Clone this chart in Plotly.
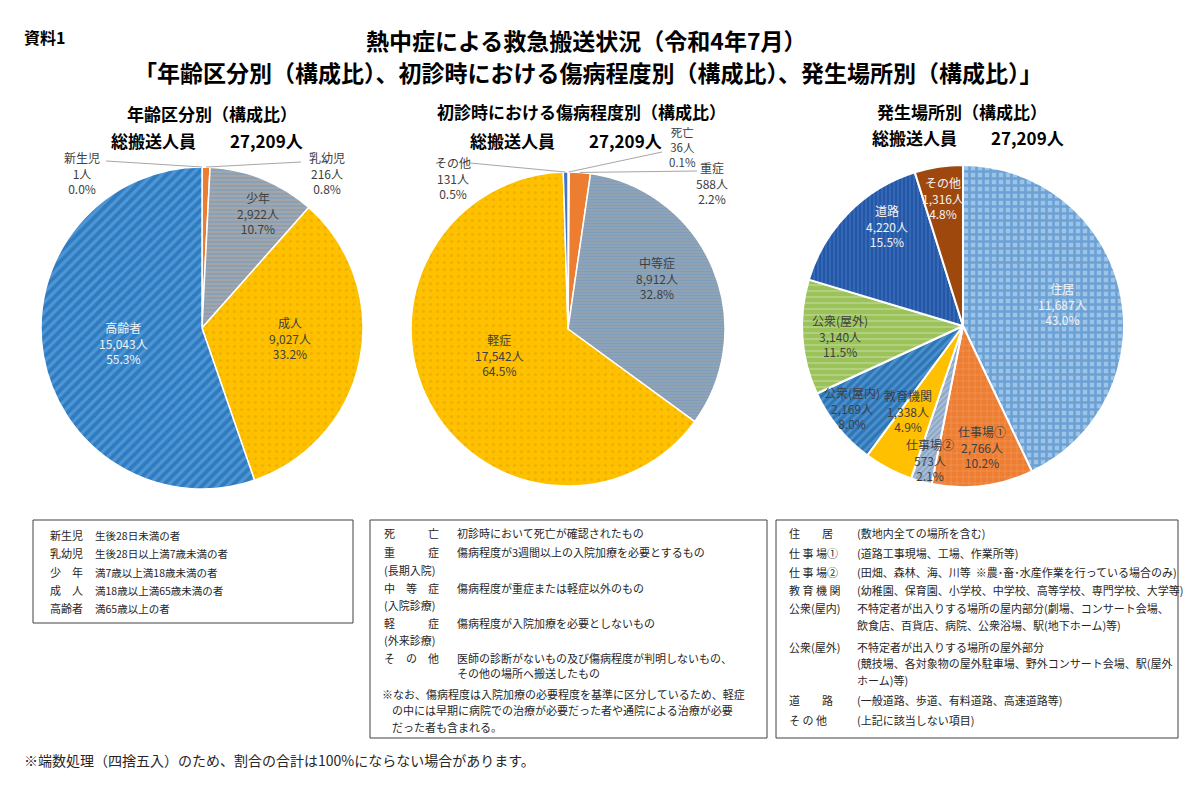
import math
import plotly.graph_objects as go

W, H = 1201, 803
FONT = "Noto Sans CJK JP"

# ---------------- data ----------------
age_labels = ["新生児", "乳幼児", "少年", "成人", "高齢者"]
age_values = [1, 216, 2922, 9027, 15043]
age_pcts = ["0.0%", "0.8%", "10.7%", "33.2%", "55.3%"]

sev_labels = ["死亡", "重症", "中等症", "軽症", "その他"]
sev_values = [36, 588, 8912, 17542, 131]
sev_pcts = ["0.1%", "2.2%", "32.8%", "64.5%", "0.5%"]

loc_labels = ["住居", "仕事場①", "仕事場②", "教育機関", "公衆(屋内)", "公衆(屋外)", "道路", "その他"]
loc_values = [11687, 2766, 573, 1338, 2169, 3140, 4220, 1316]
loc_pcts = ["43.0%", "10.2%", "2.1%", "4.9%", "8.0%", "11.5%", "15.5%", "4.8%"]

total_text = "総搬送人員　　27,209人"


def X(px):
    return px / W


def Y(py):
    return 1 - py / H


def fmt(v):
    return f"{v:,}人"


fig = go.Figure()

# pie geometry (center px, radius px)
pies = {
    "age": (202, 328, 161),
    "sev": (568, 329, 157),
    "loc": (963, 326, 161),
}


def dom(key):
    cx, cy, r = pies[key]
    return dict(x=[X(cx - r), X(cx + r)], y=[Y(cy + r), Y(cy - r)])


fig.add_trace(go.Pie(
    labels=age_labels, values=age_values, sort=False, direction="clockwise",
    rotation=0, textinfo="none", hoverinfo="label+value+percent",
    domain=dom("age"), showlegend=False,
    marker=dict(
        colors=["#4472C4", "#ED7D31", "#A5A5A5", "#FFC000", "#2F7BC0"],
        line=dict(color="white", width=1.5),
        pattern=dict(
            fillmode="overlay",
            shape=["", "", "-", ".", "/"],
            fgcolor=["#4472C4", "#ED7D31", "#5B9BD5", "#D9A300", "#6FB2EA"],
            size=[6, 6, 4, 7, 7],
            solidity=[0.3, 0.3, 0.4, 0.15, 0.45],
        ),
    ),
))

fig.add_trace(go.Pie(
    labels=sev_labels, values=sev_values, sort=False, direction="clockwise",
    rotation=0, textinfo="none", hoverinfo="label+value+percent",
    domain=dom("sev"), showlegend=False,
    marker=dict(
        colors=["#A5A5A5", "#ED7D31", "#A4A8A8", "#FFC000", "#4472C4"],
        line=dict(color="white", width=1.5),
        pattern=dict(
            fillmode="overlay",
            shape=["", "", "-", ".", ""],
            fgcolor=["#A5A5A5", "#ED7D31", "#5A94D2", "#D9A300", "#4472C4"],
            size=[6, 6, 3, 7, 6],
            solidity=[0.3, 0.3, 0.7, 0.15, 0.3],
        ),
    ),
))

fig.add_trace(go.Pie(
    labels=loc_labels, values=loc_values, sort=False, direction="clockwise",
    rotation=0, textinfo="none", hoverinfo="label+value+percent",
    domain=dom("loc"), showlegend=False,
    marker=dict(
        colors=["#9DC3E6", "#ED7D31", "#8FA9C8", "#FFC000", "#2E75B6", "#9BC35A", "#2458A6", "#9E480E"],
        line=dict(color="white", width=2),
        pattern=dict(
            fillmode="overlay",
            shape=["+", "+", "/", "", "/", "-", "|", ""],
            fgcolor=["#3A7FC4", "#F6B48A", "#DCE3EC", "#FFC000", "#6AAEE6", "#FFFFFF", "#4A7FD0", "#9E480E"],
            size=[7, 6, 4, 6, 6, 6, 4, 6],
            solidity=[0.6, 0.2, 0.3, 0.3, 0.45, 0.15, 0.4, 0.3],
        ),
    ),
))

ann = []
shapes = []

# titles
ann.append(dict(x=X(22), y=Y(37), text="<b>資料1</b>", xanchor="left", yanchor="middle",
                font=dict(size=16, color="black")))
ann.append(dict(x=X(586), y=Y(40.5), text="<b>熱中症による救急搬送状況（令和4年7月）</b>",
                xanchor="center", yanchor="middle", font=dict(size=23, color="black")))
ann.append(dict(x=X(588), y=Y(71.5),
                text="<b>「年齢区分別（構成比）、初診時における傷病程度別（構成比）、発生場所別（構成比）」</b>",
                xanchor="center", yanchor="middle", font=dict(size=23, color="black")))

subtitles = [
    ("年齢区分別（構成比）", 212, 113, 207, 140),
    ("初診時における傷病程度別（構成比）", 581, 111, 566, 140),
    ("発生場所別（構成比）", 962, 111, 968, 137),
]
for t_, x1, y1, x2, y2 in subtitles:
    ann.append(dict(x=X(x1), y=Y(y1), text=f"<b>{t_}</b>", xanchor="center", yanchor="middle",
                    font=dict(size=17, color="black")))
    ann.append(dict(x=X(x2), y=Y(y2), text=f"<b>{total_text}</b>", xanchor="center", yanchor="middle",
                    font=dict(size=17, color="black")))

DARK = "#404040"
LIGHT = "#F2F2F2"


def label(labels, values, pcts, i, x, y, color=DARK, size=12):
    ann.append(dict(x=X(x), y=Y(y), text=f"{labels[i]}<br>{fmt(values[i])}<br>{pcts[i]}",
                    xanchor="center", yanchor="middle", align="center",
                    font=dict(size=size, color=color)))


# pie 1 labels
label(age_labels, age_values, age_pcts, 0, 82, 173)
label(age_labels, age_values, age_pcts, 1, 327, 173)
label(age_labels, age_values, age_pcts, 2, 258, 213)
label(age_labels, age_values, age_pcts, 3, 290, 338)
label(age_labels, age_values, age_pcts, 4, 123, 343, color=LIGHT)

# pie 2 labels
label(sev_labels, sev_values, sev_pcts, 4, 453, 178)
label(sev_labels, sev_values, sev_pcts, 0, 682, 147, size=11.5)
label(sev_labels, sev_values, sev_pcts, 1, 712, 183)
label(sev_labels, sev_values, sev_pcts, 2, 657, 278)
label(sev_labels, sev_values, sev_pcts, 3, 500, 355)

# pie 3 labels
label(loc_labels, loc_values, loc_pcts, 0, 1062, 304, color=LIGHT)
label(loc_labels, loc_values, loc_pcts, 1, 982, 447)
label(loc_labels, loc_values, loc_pcts, 2, 930, 460)
label(loc_labels, loc_values, loc_pcts, 3, 908, 411)
label(loc_labels, loc_values, loc_pcts, 4, 852, 408)
label(loc_labels, loc_values, loc_pcts, 5, 840, 336)
label(loc_labels, loc_values, loc_pcts, 6, 887, 226, color=LIGHT)
label(loc_labels, loc_values, loc_pcts, 7, 943, 198, color=LIGHT)


# leader lines computed from slice mid-angles
def edge_point(key, values, i):
    cx, cy, r = pies[key]
    tot = sum(values)
    mid = (sum(values[:i]) + values[i] / 2) / tot
    a = 2 * math.pi * mid
    return cx + r * math.sin(a), cy - r * math.cos(a)


def leader(key, values, i, lx, ly):
    ex, ey = edge_point(key, values, i)
    shapes.append(dict(type="line", xref="paper", yref="paper", x0=X(lx), y0=Y(ly),
                       x1=X(ex), y1=Y(ey), line=dict(color="#A6A6A6", width=1)))


leader("age", age_values, 0, 106, 161)
leader("age", age_values, 1, 301, 162)
leader("sev", sev_values, 4, 470, 163)
leader("sev", sev_values, 0, 662, 152)
leader("sev", sev_values, 1, 697, 171)

# definition boxes
boxes = [(33, 520, 353, 623), (370, 520, 767, 738), (776, 520, 1178, 738)]
for x0, y0, x1, y1 in boxes:
    shapes.append(dict(type="rect", xref="paper", yref="paper", x0=X(x0), y0=Y(y0),
                       x1=X(x1), y1=Y(y1), line=dict(color="#404040", width=1)))


def t(x, y, s, size=11):
    ann.append(dict(x=X(x), y=Y(y), text=s, xanchor="left", yanchor="middle",
                    font=dict(size=size, color="#262626")))


age_def_terms = ["新生児", "乳幼児", "少　年", "成　人", "高齢者"]
age_defs = ["生後28日未満の者", "生後28日以上満7歳未満の者", "満7歳以上満18歳未満の者",
            "満18歳以上満65歳未満の者", "満65歳以上の者"]
for k, (a, b) in enumerate(zip(age_def_terms, age_defs)):
    yy = [535, 553, 572, 590, 608][k]
    t(48, yy, a)
    t(93, yy, b, size=10.5)

sev_rows = [
    (533, "死　　　亡", "初診時において死亡が確認されたもの"),
    (552, "重　　　症", "傷病程度が3週間以上の入院加療を必要とするもの"),
    (570, "(長期入院)", ""),
    (588, "中　等　症", "傷病程度が重症または軽症以外のもの"),
    (605, "(入院診療)", ""),
    (623, "軽　　　症", "傷病程度が入院加療を必要としないもの"),
    (640, "(外来診療)", ""),
    (658, "そ　の　他", "医師の診断がないもの及び傷病程度が判明しないもの、"),
    (673, "", "その他の場所へ搬送したもの"),
]
for yy, a, b in sev_rows:
    if a:
        t(382, yy, a)
    if b:
        t(455, yy, b)
t(380, 694, "※なお、傷病程度は入院加療の必要程度を基準に区分しているため、軽症")
t(390, 710, "の中には早期に病院での治療が必要だった者や通院による治療が必要")
t(390, 727, "だった者も含まれる。")

loc_rows = [
    (533, "住　　居", "(敷地内全ての場所を含む)"),
    (553, "仕 事 場①", "(道路工事現場、工場、作業所等)"),
    (572, "仕 事 場②", "(田畑、森林、海、川等  ※農･畜･水産作業を行っている場合のみ)"),
    (590, "教 育 機 関", "(幼稚園、保育園、小学校、中学校、高等学校、専門学校、大学等)"),
    (608, "公衆(屋内)", "不特定者が出入りする場所の屋内部分(劇場、コンサート会場、"),
    (625, "", "飲食店、百貨店、病院、公衆浴場、駅(地下ホーム)等)"),
    (647, "公衆(屋外)", "不特定者が出入りする場所の屋外部分"),
    (663, "", "(競技場、各対象物の屋外駐車場、野外コンサート会場、駅(屋外"),
    (680, "", "ホーム)等)"),
    (700, "道　　路", "(一般道路、歩道、有料道路、高速道路等)"),
    (720, "そ の 他", "(上記に該当しない項目)"),
]
for yy, a, b in loc_rows:
    if a:
        t(787, yy, a)
    if b:
        t(855, yy, b)

ann.append(dict(x=X(22), y=Y(760), text="※端数処理（四捨五入）のため、割合の合計は100%にならない場合があります。",
                xanchor="left", yanchor="middle", font=dict(size=14, color="#262626")))

for a in ann:
    a.setdefault("xref", "paper")
    a.setdefault("yref", "paper")
    a.setdefault("showarrow", False)

fig.update_layout(
    width=W, height=H,
    margin=dict(l=0, r=0, t=0, b=0),
    paper_bgcolor="white", plot_bgcolor="white",
    font=dict(family=FONT, color="#262626"),
    annotations=ann, shapes=shapes,
    showlegend=False,
)

fig.write_html("out.html", config={"displayModeBar": False},
               post_script="document.body.style.margin='0';")
